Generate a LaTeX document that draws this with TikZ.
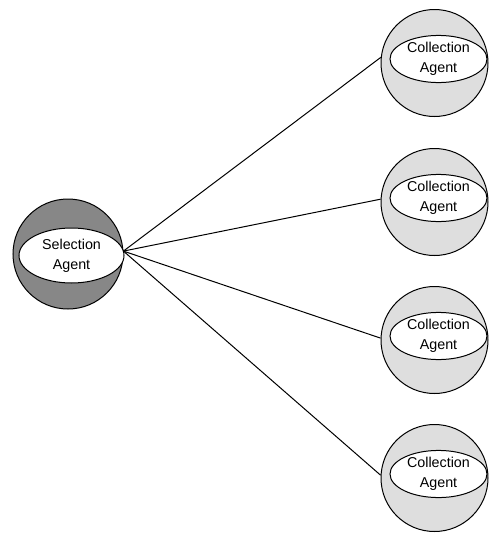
\documentclass[tikz,border=0pt]{standalone}
\usepackage{fontspec}
\setmainfont{Liberation Sans}
\usetikzlibrary{shapes.geometric}
\definecolor{selfill}{gray}{0.53}
\definecolor{colfill}{gray}{0.87}
\tikzset{
  agentball/.style={circle, draw=black, line width=1pt, inner sep=0pt, minimum size=#1},
  agentlabel/.style={ellipse, draw=black, line width=1pt, fill=white, inner sep=0pt,
    align=center, font=\fontsize{14.3}{20}\selectfont},
  link/.style={draw=black, line width=1pt}
}
\begin{document}
\begin{tikzpicture}[x=1pt,y=-1pt]
  \useasboundingbox (0,0) rectangle (488,533);
  % selection agent
  \node[agentball=110pt, fill=selfill] (sel) at (68,254) {};
  \node[agentlabel, minimum width=105pt, minimum height=55pt] (selt) at (71.5,255.5) {Selection\\Agent};
  % collection agents
  \foreach \i/\y in {1/63, 2/202, 3/340, 4/478} {
    \node[agentball=107pt, fill=colfill] (c\i) at (434.5,\y) {};
    \node[agentlabel, minimum width=97pt, minimum height=45pt] (c\i t) at (438.5,\y-4) {Collection\\Agent};
  }
  % connectors
  \draw[link] (sel.3) -- (c1.174);
  \draw[link] (sel.3) -- (c2.177);
  \draw[link] (sel.3) -- (c3.178);
  \draw[link] (sel.3) -- (c4.177);
\end{tikzpicture}
\end{document}
